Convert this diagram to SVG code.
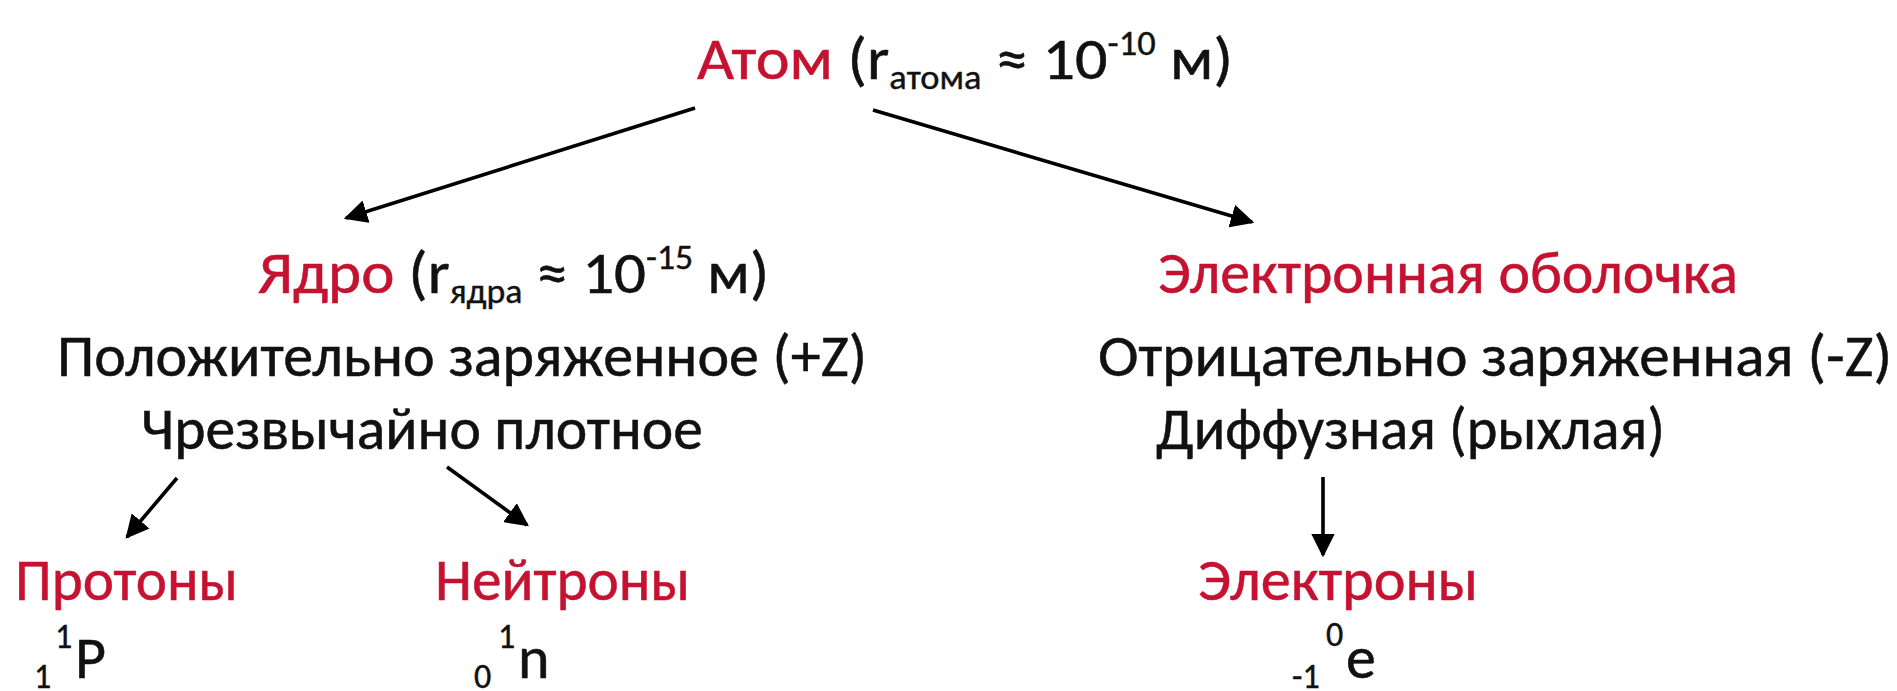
<svg xmlns="http://www.w3.org/2000/svg" width="1897" height="691" viewBox="0 0 1897 691">
  <style>
    text { font-family: Carlito, Lato, "Open Sans", sans-serif; font-size: 60px; fill: #111; stroke: #111; stroke-width: 0.5px; }
    .red { fill: #c41230; stroke: #c41230; }
    .idx { font-size: 34px; stroke-width: 0.4px; }
    .conn line { stroke: #000; stroke-width: 3.6; }
  </style>
  <defs>
    <marker id="head" viewBox="0 0 10 10" refX="9" refY="5" markerWidth="6.5" markerHeight="6.5" markerUnits="strokeWidth" orient="auto">
      <path d="M0,0 L10,5 L0,10 Z" fill="#000"/>
    </marker>
  </defs>
  <rect width="1897" height="691" fill="#fff"/>

  <!-- atom -->
  <g id="atom">
    <text x="697" y="79" textLength="536" lengthAdjust="spacingAndGlyphs"><tspan class="red">Атом</tspan> (r<tspan class="idx" dy="10">атома</tspan><tspan dy="-10">  ≈ 10</tspan><tspan class="idx" dy="-24">-10</tspan><tspan dy="24"> м)</tspan></text>
  </g>

  <!-- nucleus -->
  <g id="nucleus">
    <text x="258" y="293" textLength="511" lengthAdjust="spacingAndGlyphs"><tspan class="red">Ядро</tspan> (r<tspan class="idx" dy="10">ядра</tspan><tspan dy="-10">  ≈ 10</tspan><tspan class="idx" dy="-24">-15</tspan><tspan dy="24">  м)</tspan></text>
    <text x="57" y="376" textLength="810" lengthAdjust="spacingAndGlyphs">Положительно заряженное (+Z)</text>
    <text x="141" y="449" textLength="562" lengthAdjust="spacingAndGlyphs">Чрезвычайно плотное</text>
  </g>

  <!-- electron shell -->
  <g id="shell">
    <text class="red" x="1158" y="293" textLength="580" lengthAdjust="spacingAndGlyphs">Электронная оболочка</text>
    <text x="1098" y="376" textLength="794" lengthAdjust="spacingAndGlyphs">Отрицательно заряженная (-Z)</text>
    <text x="1156" y="449" textLength="509" lengthAdjust="spacingAndGlyphs">Диффузная (рыхлая)</text>
  </g>

  <!-- protons -->
  <g id="protons">
    <text class="red" x="15" y="600" textLength="223" lengthAdjust="spacingAndGlyphs">Протоны</text>
    <text class="idx" x="34" y="688">1</text>
    <text class="idx" x="55" y="648">1</text>
    <text x="75" y="678">P</text>
  </g>

  <!-- neutrons -->
  <g id="neutrons">
    <text class="red" x="435" y="600" textLength="255" lengthAdjust="spacingAndGlyphs">Нейтроны</text>
    <text class="idx" x="474" y="688">0</text>
    <text class="idx" x="498" y="648">1</text>
    <text x="518" y="678">n</text>
  </g>

  <!-- electrons -->
  <g id="electrons">
    <text class="red" x="1198" y="600" textLength="280" lengthAdjust="spacingAndGlyphs">Электроны</text>
    <text class="idx" x="1292" y="688">-1</text>
    <text class="idx" x="1326" y="646">0</text>
    <text x="1346" y="678">e</text>
  </g>

  <!-- connectors -->
  <g class="conn">
    <line x1="695" y1="108" x2="346" y2="218" marker-end="url(#head)"/>
    <line x1="873" y1="110" x2="1252" y2="222" marker-end="url(#head)"/>
    <line x1="177" y1="478" x2="127" y2="537" marker-end="url(#head)"/>
    <line x1="447" y1="467" x2="527" y2="525" marker-end="url(#head)"/>
    <line x1="1323" y1="477" x2="1323" y2="555" marker-end="url(#head)"/>
  </g>
</svg>
